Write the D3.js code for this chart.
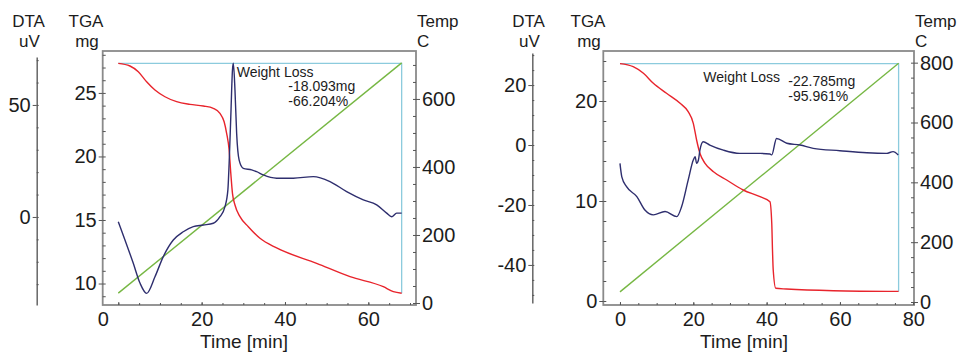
<!DOCTYPE html>
<html>
<head>
<meta charset="utf-8">
<script src="https://cdn.jsdelivr.net/npm/d3@7"></script>
<style>
  body { margin: 0; background: #fff; }
  svg text { font-family: "Liberation Sans", Arial, sans-serif; fill: #1c1c1c; }
</style>
</head>
<body>
<script>
// ---- run A (left chart) ----
var tgaTimeA = [0, 2.8, 4.8, 6.8, 8.8, 11.2, 14.0, 17.2, 20.4, 22.8, 24.4, 25.4, 26.0, 26.6, 27.0, 27.4,
  28.0, 29.2, 31.2, 34.0, 38.0, 47.6, 55.6, 63.6, 66.0, 68.0];
var tgaMassA = [27.33, 27.12, 26.67, 25.88, 25.23, 24.70, 24.31, 24.10, 23.97, 23.79, 23.39, 22.73, 21.82,
  20.51, 18.67, 17.10, 16.18, 15.26, 14.47, 13.56, 12.80, 11.59, 10.54, 9.75, 9.36, 9.24];
var dtaTimeA = [0, 3.6, 5.2, 6.8, 8.8, 10.8, 13.2, 15.6, 18.0, 20.4, 22.8, 24.4, 25.6, 26.3, 26.6, 27.0,
  27.4, 27.6, 28.0, 28.4, 29.0, 30.0, 32.0, 33.2, 34.8, 38.0, 42.0, 46.8, 50.8, 54.8, 58.8, 62.0, 64.4,
  65.6, 66.8, 68.0];
var dtaValA = [-2.1, -20.7, -29.5, -34.1, -26.7, -17.7, -10.3, -6.6, -4.3, -3.6, -2.8, 0.1, 4.6, 12.1, 24.0,
  44.8, 65.6, 68.6, 56.7, 37.4, 25.4, 21.7, 21.0, 20.2, 18.75, 17.3, 17.3, 18.0, 15.8, 11.3, 7.6, 5.4, 1.7,
  0.1, 1.7, 1.7];
var tempTimeA = [0, 68];
var tempValA = [29, 706];
var lossTextA = ["-18.093mg", "-66.204%"];

// ---- run B (right chart) ----
var tgaTimeB = [0, 3.6, 6.4, 9.1, 12.7, 16.4, 18.6, 20.0, 20.9, 21.8, 23.2, 25.5, 29.1, 33.6, 38.2, 40.9,
  41.4, 41.6, 41.8, 42.5, 45.4, 58.2, 76.0];
var tgaMassB = [23.74, 23.43, 22.77, 21.77, 20.77, 19.77, 18.93, 17.77, 16.1, 14.77, 13.77, 12.93, 12.1,
  11.1, 10.43, 9.93, 7.77, 5.1, 3.1, 1.27, 1.2, 1.03, 0.96];
var dtaTimeB = [0, 0.5, 1.8, 4.6, 6.8, 9.1, 12.3, 15.5, 16.8, 18.6, 20.0, 20.5, 20.9, 21.4, 21.8, 22.7,
  24.5, 28.2, 32.7, 38.2, 40.9, 41.4, 42.7, 45.5, 49.1, 52.7, 60.0, 67.3, 72.7, 74.5, 75.9];
var dtaValB = [-6.1, -10.6, -13.9, -17.2, -21.7, -23.3, -22.2, -23.9, -20.6, -11.7, -5.0, -3.9, -6.1, -5.0,
  -1.7, 1.1, 0, -1.7, -2.8, -2.8, -3.0, -3.3, 2.2, 0.6, 0, -1.1, -1.9, -2.6, -2.8, -2.2, -3.3];
var tempTimeB = [0, 76];
var tempValB = [34, 798];
var lossTextB = ["-22.785mg", "-95.961%"];

// ---- tick labels ----
var timeTicksA = [0, 20, 40, 60];
var timeTicksB = [0, 20, 40, 60, 80];
var tgaTicksA = [10, 15, 20, 25];
var tgaTicksB = [0, 10, 20];
var tempTicksA = [0, 200, 400, 600];
var tempTicksB = [0, 200, 400, 600, 800];
var dtaTicksA = [0, 50];
var dtaTicksB = [-40, -20, 0, 20];

var W = 963, H = 354;
var red = "#e8242c", navy = "#2e2e6e", green = "#76b743", cyan = "#8ccbdd", frame = "#8a8a8a";
// plain hyphen for negatives, like the original software
var plain = function(v) { return String(v); };

var svg = d3.select("body").append("svg")
  .attr("width", W).attr("height", H);
svg.append("rect").attr("width", W).attr("height", H).attr("fill", "#fff");

// layout for each chart (pixels + axis domains)
var layoutA = {
  x0: 102.7, x1: 416, y0: 51, y1: 305,
  dtaX: 36.7, dtaY0: 57, dtaY1: 305,
  timeDom: [-3.74, 71.44], tgaDom: [8.31, 28.3], tempDom: [-5.9, 741], dtaDom: [-39.3, 71.4],
  timeMinor: 5, tgaMinor: 1, tempMinor: 50, dtaMinor: 10,
  dtaTitleX: 28.5, tgaTitleX: 86, xTitleX: 244,
  lossX: 236.7, lossY: 77, valX: 288.3, valY: 91,
  zeroAtEdge: true
};
var layoutB = {
  x0: 603.3, x1: 914, y0: 51, y1: 305,
  dtaX: 532.3, dtaY0: 53, dtaY1: 303,
  timeDom: [-4.55, 80.2], tgaDom: [-0.4, 25.0], tempDom: [-10, 839], dtaDom: [-52.7, 30.7],
  timeMinor: 5, tgaMinor: 2, tempMinor: 50, dtaMinor: 5,
  dtaTitleX: 528.5, tgaTitleX: 588, xTitleX: 744,
  lossX: 703.3, lossY: 82, valX: 788.3, valY: 85.5,
  zeroAtEdge: false
};

function minorTicks(dom, step) {
  return d3.range(Math.ceil(dom[0] / step) * step, dom[1], step);
}

function styleAxis(g, size) {
  g.attr("font-family", null).attr("font-size", null);
  g.selectAll("text").style("font-size", size + "px").attr("fill", "#1c1c1c");
  g.selectAll("line").attr("stroke", "#555");
  g.select(".domain").attr("stroke", "#666").attr("stroke-width", 1.5);
}

function drawPanel(L, d) {
  var x = d3.scaleLinear().domain(L.timeDom).range([L.x0, L.x1]);
  var yT = d3.scaleLinear().domain(L.tgaDom).range([L.y1, L.y0]);
  var yC = d3.scaleLinear().domain(L.tempDom).range([L.y1, L.y0]);
  var yD = d3.scaleLinear().domain(L.dtaDom).range([L.dtaY1, L.dtaY0]);

  // frame
  svg.append("rect")
    .attr("x", L.x0).attr("y", L.y0)
    .attr("width", L.x1 - L.x0).attr("height", L.y1 - L.y0)
    .attr("fill", "none").attr("stroke", frame).attr("stroke-width", 1.8);

  // time axis
  var gx = svg.append("g").attr("transform", "translate(0," + L.y1 + ")")
    .call(d3.axisBottom(x).tickValues(d.timeTicks).tickSize(-3).tickPadding(7).tickFormat(plain));
  styleAxis(gx, 20);
  gx.select(".domain").remove();
  if (L.zeroAtEdge) {
    gx.selectAll(".tick").filter(function(v) { return v === 0; })
      .select("text").attr("x", x.range()[0] - x(0));
  }
  var gxm = svg.append("g").attr("transform", "translate(0," + L.y1 + ")")
    .call(d3.axisBottom(x).tickValues(minorTicks(L.timeDom, L.timeMinor)).tickSize(-2).tickFormat(""));
  styleAxis(gxm, 10);
  gxm.select(".domain").remove();

  // TGA axis
  var gt = svg.append("g").attr("transform", "translate(" + L.x0 + ",0)")
    .call(d3.axisLeft(yT).tickValues(d.tgaTicks).tickSize(4).tickPadding(2).tickFormat(plain));
  styleAxis(gt, 20);
  gt.select(".domain").remove();
  var gtm = svg.append("g").attr("transform", "translate(" + L.x0 + ",0)")
    .call(d3.axisLeft(yT).tickValues(minorTicks(L.tgaDom, L.tgaMinor)).tickSize(-3).tickFormat(""));
  styleAxis(gtm, 10);
  gtm.select(".domain").remove();

  // temperature axis
  var gc = svg.append("g").attr("transform", "translate(" + L.x1 + ",0)")
    .call(d3.axisRight(yC).tickValues(d.tempTicks).tickSize(4).tickPadding(2).tickFormat(plain));
  styleAxis(gc, 20);
  gc.select(".domain").remove();
  var gcm = svg.append("g").attr("transform", "translate(" + L.x1 + ",0)")
    .call(d3.axisRight(yC).tickValues(minorTicks(L.tempDom, L.tempMinor)).tickSize(-3).tickFormat(""));
  styleAxis(gcm, 10);
  gcm.select(".domain").remove();

  // DTA axis (free standing)
  var gd = svg.append("g").attr("transform", "translate(" + L.dtaX + ",0)")
    .call(d3.axisLeft(yD).tickValues(d.dtaTicks).tickSize(4).tickSizeOuter(0).tickPadding(2).tickFormat(plain));
  styleAxis(gd, 20);
  var gdm = svg.append("g").attr("transform", "translate(" + L.dtaX + ",0)")
    .call(d3.axisRight(yD).tickValues(minorTicks(L.dtaDom, L.dtaMinor)).tickSize(2).tickFormat(""));
  styleAxis(gdm, 10);
  gdm.select(".domain").remove();

  // axis titles
  var t1 = 27, t2 = 46.5;
  function title(tx, ty, s, anchor) {
    svg.append("text").attr("x", tx).attr("y", ty).attr("text-anchor", anchor)
      .style("font-size", "17px").text(s);
  }
  title(L.dtaTitleX, t1, "DTA", "middle");
  title(L.dtaTitleX + 1, t2, "uV", "middle");
  title(L.tgaTitleX, t1, "TGA", "middle");
  title(L.tgaTitleX + 1, t2, "mg", "middle");
  title(L.x1 + 1, t1, "Temp", "start");
  title(L.x1 + 1, t2, "C", "start");
  svg.append("text").attr("x", L.xTitleX).attr("y", 348).attr("text-anchor", "middle")
    .style("font-size", "19px").text("Time [min]");

  function series(ts, vs) { return d3.zip(ts, vs); }

  // weight-loss step marker
  var m0 = d.tgaMass[0], m1 = d.tgaMass[d.tgaMass.length - 1];
  var tA = d.tgaTime[0], tB = d.tgaTime[d.tgaTime.length - 1];
  svg.append("path")
    .attr("d", d3.line().x(function(p) { return x(p[0]); }).y(function(p) { return yT(p[1]); })
      ([[tA, m0], [tB, m0], [tB, m1]]))
    .attr("fill", "none").attr("stroke", cyan).attr("stroke-width", 1.3);

  // temperature
  svg.append("path")
    .attr("d", d3.line().x(function(p) { return x(p[0]); }).y(function(p) { return yC(p[1]); })
      (series(d.tempTime, d.tempVal)))
    .attr("fill", "none").attr("stroke", green).attr("stroke-width", 1.4);

  // TGA
  svg.append("path")
    .attr("d", d3.line().curve(d3.curveMonotoneX)
      .x(function(p) { return x(p[0]); }).y(function(p) { return yT(p[1]); })
      (series(d.tgaTime, d.tgaMass)))
    .attr("fill", "none").attr("stroke", red).attr("stroke-width", 1.4);

  // DTA
  svg.append("path")
    .attr("d", d3.line().curve(d3.curveMonotoneX)
      .x(function(p) { return x(p[0]); }).y(function(p) { return yD(p[1]); })
      (series(d.dtaTime, d.dtaVal)))
    .attr("fill", "none").attr("stroke", navy).attr("stroke-width", 1.4);

  // weight loss note
  svg.append("text").attr("x", L.lossX).attr("y", L.lossY).style("font-size", "14px").text("Weight Loss");
  svg.append("text").attr("x", L.valX).attr("y", L.valY).style("font-size", "14px").text(d.loss[0]);
  svg.append("text").attr("x", L.valX).attr("y", L.valY + 15).style("font-size", "14px").text(d.loss[1]);
}

drawPanel(layoutA, {
  tgaTime: tgaTimeA, tgaMass: tgaMassA, dtaTime: dtaTimeA, dtaVal: dtaValA,
  tempTime: tempTimeA, tempVal: tempValA, loss: lossTextA,
  timeTicks: timeTicksA, tgaTicks: tgaTicksA, tempTicks: tempTicksA, dtaTicks: dtaTicksA
});
drawPanel(layoutB, {
  tgaTime: tgaTimeB, tgaMass: tgaMassB, dtaTime: dtaTimeB, dtaVal: dtaValB,
  tempTime: tempTimeB, tempVal: tempValB, loss: lossTextB,
  timeTicks: timeTicksB, tgaTicks: tgaTicksB, tempTicks: tempTicksB, dtaTicks: dtaTicksB
});
</script>
</body>
</html>
